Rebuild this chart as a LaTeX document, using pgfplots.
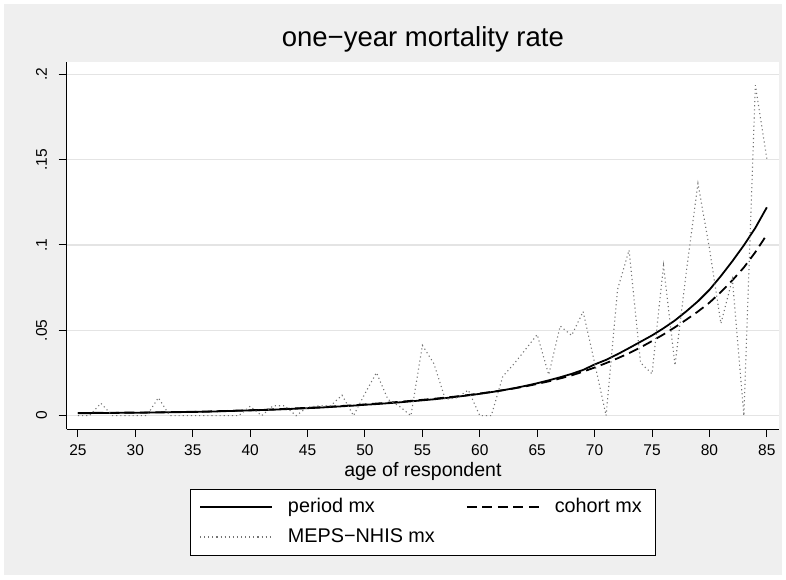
\documentclass[border=0pt]{standalone}
\usepackage{fontspec}
\setmainfont{Liberation Sans}
\usepackage{pgfplots}
\pgfplotsset{compat=1.18}
\usepackage{pgfplotstable}
\definecolor{bg}{RGB}{239,239,239}
\definecolor{gridc}{RGB}{228,228,228}
\definecolor{meps}{RGB}{115,115,115}

\pgfplotstableread{
age period cohort meps
25 0.0015 0.0016 0
26 0.0015 0.0016 0
27 0.0016 0.0017 0.0073
28 0.0016 0.0017 0
29 0.0017 0.0018 0
30 0.0017 0.0018 0
31 0.0018 0.0019 0
32 0.0019 0.0020 0.0105
33 0.0020 0.0021 0
34 0.0021 0.0022 0
35 0.0022 0.0023 0
36 0.0023 0.0024 0
37 0.0025 0.0026 0
38 0.0027 0.0028 0
39 0.0029 0.0030 0
40 0.0031 0.0032 0.0055
41 0.0033 0.0034 0
42 0.0035 0.0037 0.0058
43 0.0038 0.0040 0.0058
44 0.0041 0.0043 0
45 0.0044 0.0046 0.0050
46 0.0047 0.0049 0.0058
47 0.0051 0.0053 0.0058
48 0.0055 0.0057 0.0120
49 0.0059 0.0061 0
50 0.0064 0.0066 0.0130
51 0.0068 0.0071 0.0252
52 0.0073 0.0076 0.0095
53 0.0078 0.0081 0.0055
54 0.0084 0.0087 0
55 0.0090 0.0093 0.0412
56 0.0096 0.0099 0.0305
57 0.0103 0.0106 0.0095
58 0.0111 0.0113 0.0105
59 0.0119 0.0121 0.0150
60 0.0128 0.0130 0
61 0.0138 0.0139 0
62 0.0149 0.0149 0.0230
63 0.0161 0.0160 0.0305
64 0.0175 0.0172 0.0390
65 0.0190 0.0186 0.0475
66 0.0207 0.0201 0.0240
67 0.0225 0.0218 0.0525
68 0.0245 0.0236 0.0470
69 0.0268 0.0258 0.0610
70 0.0300 0.0282 0.0310
71 0.0327 0.0308 0
72 0.0360 0.0336 0.0740
73 0.0396 0.0366 0.0970
74 0.0433 0.0400 0.0310
75 0.0470 0.0437 0.0245
76 0.0512 0.0476 0.0880
77 0.0558 0.0518 0.0295
78 0.0612 0.0563 0.0850
79 0.0670 0.0610 0.1360
80 0.0737 0.0662 0.0980
81 0.0818 0.0724 0.0540
82 0.0905 0.0793 0.0800
83 0.0998 0.0868 0
84 0.1100 0.0958 0.1935
85 0.1220 0.1060 0.1505
}\mxdata

\begin{document}
\begin{tikzpicture}[x=1pt,y=1pt]
\fill[white] (0,0) rectangle (786,579);
\fill[bg] (4,4) rectangle (782,575);
\path[use as bounding box] (0,0) rectangle (786,579);
\begin{axis}[
  at={(66.7pt,150pt)}, anchor=south west,
  scale only axis, width=712.3pt, height=367.3pt,
  xmin=24.02, xmax=86.06, ymin=-0.0078, ymax=0.2073,
  axis background/.style={fill=white},
  axis x line*=bottom, axis y line*=left,
  axis line style={line width=1pt, black},
  tick align=outside, major tick length=8pt,
  tick style={line width=1pt, black},
  xtick={25,30,...,85},
  xticklabels={25,30,35,40,45,50,55,60,65,70,75,80,85},
  ytick={0,0.05,0.1,0.15,0.2},
  yticklabels={0,.05,.1,.15,.2},
  minor tick num=0,
  ymajorgrids, grid style={gridc, line width=1.2pt},
  /pgf/number format/assume math mode=true,
  ticklabel style={font=\fontsize{15.5}{18}\selectfont, inner sep=0pt},
  xticklabel style={anchor=base},
  xticklabel shift=18.5pt,
  yticklabel style={rotate=90, anchor=base},
  yticklabel shift=11.7pt,
  title={one−year mortality rate},
  title style={font=\fontsize{27.5}{32}\selectfont, at={(0.5,1)}, anchor=base, yshift=9pt},
  xlabel={age of respondent},
  xlabel style={font=\fontsize{19.5}{23}\selectfont, inner sep=0pt, at={(axis description cs:0.5,0)}, anchor=base, yshift=-47pt},
  legend columns=2,
  legend cell align=left,
  legend style={at={(0.5002,-0.2532)}, anchor=center, draw=black, line width=0.8pt, fill=white,
    inner xsep=9pt, inner ysep=9pt, column sep=15pt, row sep=12pt,
    font=\fontsize{19.8}{23}\selectfont, nodes={inner sep=0pt, text height=14pt, text depth=4pt}},
  legend image code/.code={\draw[#1] (0pt,0pt) -- (72pt,0pt);},
]
\addplot[black, line width=1.8pt, no markers] table[x=age, y=period] {\mxdata};
\addlegendentry{\makebox[163pt][l]{period mx}}
\addplot[black, line width=1.8pt, no markers, dash pattern=on 10pt off 5.5pt] table[x=age, y=cohort] {\mxdata};
\addlegendentry{\makebox[92pt][l]{cohort mx}}
\addplot[meps, line width=1.1pt, no markers, dash pattern=on 1.1pt off 3pt] table[x=age, y=meps] {\mxdata};
\addlegendentry{\makebox[163pt][l]{MEPS−NHIS mx}}
\end{axis}
\end{tikzpicture}
\end{document}
